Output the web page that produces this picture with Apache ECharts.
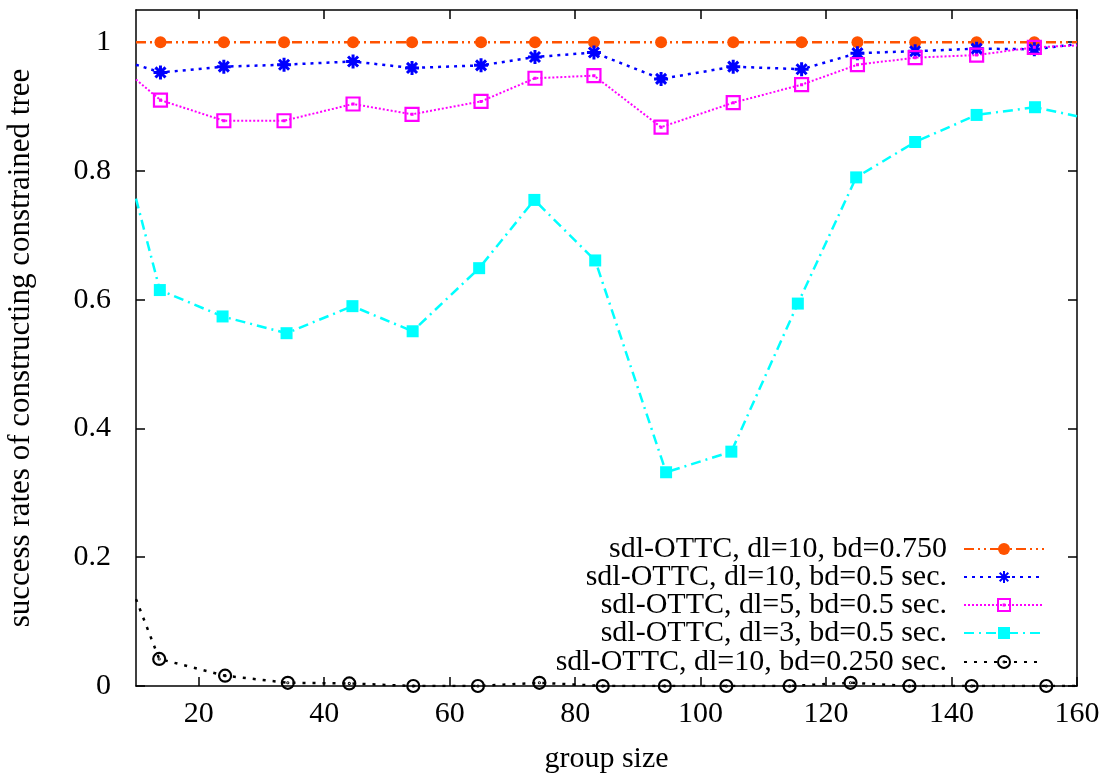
<!DOCTYPE html>
<html>
<head>
<meta charset="utf-8">
<script src="https://cdn.jsdelivr.net/npm/echarts@6/dist/echarts.min.js"></script>
<style>
  html, body { margin: 0; padding: 0; background: #fff; }
  #chart { width: 1110px; height: 773px; }
</style>
</head>
<body>
<div id="chart"></div>
<script>
// Group sizes (x) for each measured series; the first/last entries are where the curve meets the frame.
const groupSizeMain = [10, 13.9, 24.0, 33.6, 44.6, 54.0, 65.0, 73.6, 83.0, 93.7, 105.2, 116.1, 125.0, 134.2, 144.0, 153.2, 160];
const groupSizeDl3  = [10, 13.8, 23.8, 34.0, 44.5, 54.1, 64.7, 73.5, 83.2, 94.5, 104.9, 115.5, 124.8, 134.2, 144.0, 153.3, 160];
const groupSizeLow  = [10, 13.7, 24.2, 34.2, 44.0, 54.2, 64.5, 74.3, 84.4, 94.3, 104.1, 114.2, 123.9, 133.3, 143.2, 155.1, 160];

// Success rates
const rateDl10Bd750 = [1, 1, 1, 1, 1, 1, 1, 1, 1, 1, 1, 1, 1, 1, 1, 1, 1];
const rateDl10Bd05  = [0.965, 0.953, 0.962, 0.965, 0.970, 0.960, 0.964, 0.977, 0.984, 0.943, 0.962, 0.958, 0.983, 0.986, 0.990, 0.989, 0.997];
const rateDl5Bd05   = [0.942, 0.910, 0.878, 0.878, 0.904, 0.888, 0.908, 0.944, 0.948, 0.868, 0.906, 0.934, 0.965, 0.976, 0.980, 0.992, 0.995];
const rateDl3Bd05   = [0.757, 0.615, 0.574, 0.548, 0.590, 0.551, 0.649, 0.755, 0.661, 0.332, 0.364, 0.594, 0.790, 0.845, 0.887, 0.899, 0.885];
const rateDl10Bd250 = [0.135, 0.042, 0.016, 0.005, 0.004, 0, 0, 0.005, 0, 0, 0, 0, 0.005, 0, 0, 0, 0];

const seriesNames = [
  'sdl-OTTC, dl=10, bd=0.750',
  'sdl-OTTC, dl=10, bd=0.5 sec.',
  'sdl-OTTC, dl=5, bd=0.5 sec.',
  'sdl-OTTC, dl=3, bd=0.5 sec.',
  'sdl-OTTC, dl=10, bd=0.250 sec.'
];

const xTicks = [20, 40, 60, 80, 100, 120, 140, 160];
const yTicks = [0, 0.2, 0.4, 0.6, 0.8, 1];

const FONT = "'Liberation Serif', 'Times New Roman', serif";
const FONT_SIZE = 30;
const frameLine = { color: '#000', width: 1.5 };

// pair x and y arrays; the frame-crossing end points carry no marker
function pairs(xs, ys) {
  return xs.map((x, i) => {
    const item = { value: [x, ys[i]] };
    if (i === 0 || i === xs.length - 1) item.symbol = 'none';
    return item;
  });
}

const starPath = 'path://M0,-6L0,6M-6,0L6,0M-4.3,-4.3L4.3,4.3M-4.3,4.3L4.3,-4.3';
const boxDotPath = 'path://M-6,-6L6,-6L6,6L-6,6Z M-0.4,-0.4L0.4,-0.4L0.4,0.4L-0.4,0.4Z';
const ringDotPath = 'path://M-5,0A5,5 0 1,0 5,0A5,5 0 1,0 -5,0Z M-0.4,0A0.4,0.4 0 1,0 0.4,0A0.4,0.4 0 1,0 -0.4,0Z';

const series = [
  {
    name: seriesNames[0], type: 'line', data: pairs(groupSizeMain, rateDl10Bd750),
    symbol: 'circle', symbolSize: 12,
    itemStyle: { color: '#ff5200' },
    lineStyle: { color: '#ff5200', width: 2.5, type: [10, 4, 2, 4, 2, 4] }
  },
  {
    name: seriesNames[1], type: 'line', data: pairs(groupSizeMain, rateDl10Bd05),
    symbol: starPath, symbolSize: 14,
    itemStyle: { color: 'transparent', borderColor: '#0000ff', borderWidth: 3 },
    lineStyle: { color: '#0000ff', width: 2.5, type: [3, 5] }
  },
  {
    name: seriesNames[2], type: 'line', data: pairs(groupSizeMain, rateDl5Bd05),
    symbol: boxDotPath, symbolSize: 13,
    itemStyle: { color: 'transparent', borderColor: '#ff00ff', borderWidth: 2.2 },
    lineStyle: { color: '#ff00ff', width: 2, type: [2, 2] }
  },
  {
    name: seriesNames[3], type: 'line', data: pairs(groupSizeDl3, rateDl3Bd05),
    symbol: 'rect', symbolSize: 12,
    itemStyle: { color: '#00ffff' },
    lineStyle: { color: '#00ffff', width: 2.5, type: [10, 5, 2, 5] }
  },
  {
    name: seriesNames[4], type: 'line', data: pairs(groupSizeLow, rateDl10Bd250),
    symbol: ringDotPath, symbolSize: 12,
    itemStyle: { color: 'transparent', borderColor: '#000', borderWidth: 2.2 },
    lineStyle: { color: '#000', width: 2.5, type: [3, 7] }
  }
].map(s => Object.assign({ animation: false, clip: true, symbolKeepAspect: true, z: 3 }, s));

// one legend per row so the samples line up and the labels are right-aligned
const legendRowCenters = [548, 576, 604, 632, 661];
const legends = seriesNames.map((name, i) => ({
  data: [name],
  orient: 'vertical',
  right: 65,
  top: legendRowCenters[i] - 14,
  align: 'right',
  padding: 0,
  itemWidth: 80,
  itemHeight: 15,
  selectedMode: false,
  textStyle: { fontFamily: FONT, fontSize: FONT_SIZE, color: '#000', lineHeight: 28, padding: [0, 12, 0, 0] }
}));

const chart = echarts.init(document.getElementById('chart'), null, { renderer: 'canvas' });
chart.setOption({
  animation: false,
  backgroundColor: '#fff',
  grid: { left: 136, right: 33, top: 10, bottom: 87, containLabel: false, outerBoundsMode: 'none' },
  legend: legends,
  xAxis: [
    {
      type: 'value', min: 10, max: 160, position: 'bottom',
      name: 'group size', nameLocation: 'middle', nameGap: 58,
      nameTextStyle: { fontFamily: FONT, fontSize: FONT_SIZE, color: '#000' },
      axisLine: { show: true, onZero: false, lineStyle: frameLine },
      axisTick: { show: true, inside: true, length: 9, customValues: xTicks, lineStyle: frameLine },
      axisLabel: { customValues: xTicks, fontFamily: FONT, fontSize: FONT_SIZE, color: '#000', margin: 13 },
      splitLine: { show: false }
    },
    {
      type: 'value', min: 10, max: 160, position: 'top',
      axisLine: { show: true, onZero: false, lineStyle: frameLine },
      axisTick: { show: true, inside: true, length: 9, customValues: xTicks, lineStyle: frameLine },
      axisLabel: { show: false },
      splitLine: { show: false }
    }
  ],
  yAxis: [
    {
      type: 'value', min: 0, max: 1.05, position: 'left',
      name: 'success rates of constructing constrained tree', nameLocation: 'middle', nameGap: 100,
      nameTextStyle: { fontFamily: FONT, fontSize: 31, color: '#000' },
      axisLine: { show: true, onZero: false, lineStyle: frameLine },
      axisTick: { show: true, inside: true, length: 9, customValues: yTicks, lineStyle: frameLine },
      axisLabel: { customValues: yTicks, fontFamily: FONT, fontSize: FONT_SIZE, color: '#000', margin: 25,
                   formatter: v => String(+v.toFixed(2)) },
      splitLine: { show: false }
    },
    {
      type: 'value', min: 0, max: 1.05, position: 'right',
      axisLine: { show: true, onZero: false, lineStyle: frameLine },
      axisTick: { show: true, inside: true, length: 9, customValues: yTicks, lineStyle: frameLine },
      axisLabel: { show: false },
      splitLine: { show: false }
    }
  ],
  series: series
});
</script>
</body>
</html>
